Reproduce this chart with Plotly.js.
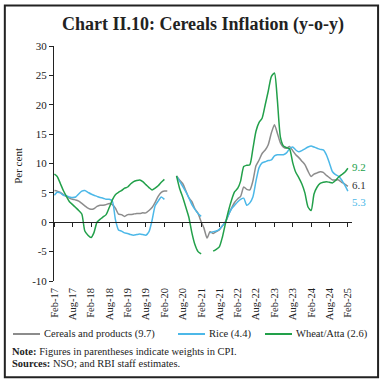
<!DOCTYPE html>
<html><head><meta charset="utf-8">
<script src="https://cdn.plot.ly/plotly-3.0.1.min.js"></script>
<style>html,body{margin:0;padding:0;background:#fff;} #chart{width:384px;height:384px;}</style>
</head><body><div id="chart"></div>
<script>
// Monthly series, Feb-17 .. Feb-25 (null = not shown)
const cereals = [
  5.4, 5.3, 5.1, 4.7, 4.4, 4.1, 3.9, 3.8, 3.6, 3.2,
  2.8, 2.4, 2.2, 2.3, 2.7, 2.9, 2.9, 3.0, 3.2, 3.0,
  2.4, 1.4, 1.3, 1.0, 1.3, 1.3, 1.4, 1.5, 1.5, 1.6,
  1.6, 2.0, 2.5, 3.4, 4.4, 5.1, 5.3, 5.3, null, null,
  7.9, 7.2, 6.6, 5.4, 4.2, 3.5, 2.3, 1.5, 0.1, -1.0,
  -2.7, -1.6, -1.9, -1.6, -1.3, -0.6, 0.0, 1.3, 2.4, 3.4,
  4.0, 4.4, 6.0, 5.6, 5.5, 7.0, 9.6, 10.6, 11.7, 12.3,
  13.2, 15.2, 16.6, 15.2, 13.5, 12.8, 12.6, 12.9, 12.2, 11.5,
  11.0, 10.4, 9.8, 8.7, 7.8, 8.2, 8.4, 8.6, 8.5, 8.0,
  7.6, 7.2, 7.2, 7.2, 6.8, 6.5, 6.1
];
const rice = [
  4.6, 5.1, 5.0, 4.6, 4.5, 4.3, 4.2, 4.3, 4.8, 5.3,
  5.4, 5.1, 4.8, 4.6, 4.4, 4.2, 4.1, 3.9, 3.9, 3.6,
  0.5, -1.3, -1.5, -1.8, -1.9, -2.1, -2.2, -2.1, -2.0, -2.1,
  -2.2, -1.6, 0.3, 2.8, 3.6, 4.3, 3.9, null, null, null,
  7.8, 7.0, 6.1, 5.2, 4.2, 3.0, 2.2, 1.5, 1.0, null,
  null, -1.8, -1.6, -1.5, -1.2, -0.6, 0.1, 1.3, 2.3, 2.9,
  3.5, 3.9, 4.1, 2.9, 3.3, 4.3, 7.0, 9.3, 10.1, 10.3,
  10.5, 10.6, 11.3, 11.5, 11.5, 11.5, 11.8, 12.5, 12.8, 12.3,
  12.0, 12.2, 12.5, 12.8, 13.0, 12.8, 12.6, 12.4, 12.3, 11.5,
  10.1, 8.6, 8.1, 7.8, 7.2, 6.3, 5.3
];
const wheat = [
  8.2, 7.8, 6.6, 5.4, 4.4, 3.5, 3.0, 2.5, 2.0, 1.4,
  -1.5, -2.2, -2.6, -1.8, 0.0, 0.5, 0.9, 1.3, 2.5, 3.8,
  4.7, 5.1, 5.4, 5.8, 6.0, 6.5, 6.9, 7.1, 7.2, 6.9,
  6.4, 5.9, 5.5, 5.8, 6.2, 6.8, 7.3, null, null, null,
  7.9, 5.8, 4.3, 2.6, 0.9, -1.8, -3.8, -5.0, -5.4, null,
  null, null, -4.9, -4.6, -4.2, -2.5, -0.2, 2.0, 3.8, 5.2,
  5.8, 7.0, 9.5, 9.7, 9.8, 12.5, 15.5, 17.0, 17.7, 20.0,
  22.3, 24.8, 25.4, 21.0, 14.5, 13.0, 12.7, 12.5, 10.2, 8.5,
  7.6, 6.5, 5.0, 2.6, 2.0, 4.8, 6.0, 6.6, 6.8, 6.9,
  6.8, 6.7, 7.1, 7.7, 8.1, 8.5, 9.2
];
const seriesNames = ['Cereals and products (9.7)', 'Rice (4.4)', 'Wheat/Atta (2.6)'];
const tickLabels = ['Feb-17','Aug-17','Feb-18','Aug-18','Feb-19','Aug-19','Feb-20','Aug-20',
  'Feb-21','Aug-21','Feb-22','Aug-22','Feb-23','Aug-23','Feb-24','Aug-24','Feb-25'];
const yTickVals = [-10, -5, 0, 5, 10, 15, 20, 25, 30];
const yTickText = ['-10', '-5', '0', '5', '10', '15', '20', '25', '30'];
const endLabels = ['9.2', '6.1', '5.3'];

const months = cereals.map((_, i) => new Date(Date.UTC(2017, 1 + i, 1)).toISOString().slice(0, 10));
const tickVals = tickLabels.map((_, k) => months[6 * k]);
const last = months[months.length - 1];

const colors = ['#8c8c8c', '#4cb8e8', '#22a04a'];
const serif = 'Liberation Serif, DejaVu Serif, serif';

const mk = (y, name, color) => ({
  x: months, y: y, name: name, type: 'scatter', mode: 'lines',
  line: {color: color, width: 1.5, shape: 'spline', smoothing: 0.6},
  connectgaps: false, hoverinfo: 'skip', showlegend: false
});

const traces = [
  mk(cereals, seriesNames[0], colors[0]),
  mk(rice, seriesNames[1], colors[1]),
  mk(wheat, seriesNames[2], colors[2]),
  {x: [months[0]], y: [null], xaxis: 'x2', yaxis: 'y', showlegend: false, mode: 'lines', hoverinfo: 'skip'}
];

// Legend key geometry (paper coords)
const legY = -0.2255;
const legKeys = [[-0.1376, -0.047], [0.4161, 0.5067], [0.7081, 0.7987]];

const shapes = [
  {type: 'rect', xref: 'paper', yref: 'paper', x0: -0.165, x1: 1.0875, y0: -0.41, y1: 1.172,
   line: {color: '#222', width: 2}, fillcolor: 'rgba(0,0,0,0)', layer: 'above'}
];
const annotations = [
  {text: 'Per cent', textangle: -90, xref: 'paper', yref: 'paper', x: -0.121, y: 0.49,
   xanchor: 'center', yanchor: 'middle', showarrow: false, font: {family: serif, size: 11, color: '#222'}},
  {text: endLabels[0], x: last, y: 9.4, xref: 'x', yref: 'y', xanchor: 'left', yanchor: 'middle', xshift: 2,
   showarrow: false, font: {family: serif, size: 11, color: colors[2]}},
  {text: endLabels[1], x: last, y: 6.35, xref: 'x', yref: 'y', xanchor: 'left', yanchor: 'middle', xshift: 2,
   showarrow: false, font: {family: serif, size: 11, color: '#333'}},
  {text: endLabels[2], x: last, y: 3.5, xref: 'x', yref: 'y', xanchor: 'left', yanchor: 'middle', xshift: 2,
   showarrow: false, font: {family: serif, size: 11, color: colors[1]}},
  {text: '<b>Note:</b> Figures in parentheses indicate weights in CPI.', xref: 'paper', yref: 'paper',
   x: -0.147, y: -0.298, xanchor: 'left', yanchor: 'middle', showarrow: false,
   font: {family: serif, size: 10.5, color: '#222'}},
  {text: '<b>Sources:</b> NSO; and RBI staff estimates.', xref: 'paper', yref: 'paper',
   x: -0.147, y: -0.353, xanchor: 'left', yanchor: 'middle', showarrow: false,
   font: {family: serif, size: 10.5, color: '#222'}}
];
legKeys.forEach((k, i) => {
  shapes.push({type: 'line', xref: 'paper', yref: 'paper', x0: k[0], x1: k[1], y0: legY, y1: legY,
               line: {color: colors[i], width: 2}});
  annotations.push({text: seriesNames[i], xref: 'paper', yref: 'paper', x: k[1] + 0.008, y: legY,
                    xanchor: 'left', yanchor: 'middle', showarrow: false,
                    font: {family: serif, size: 10.5, color: '#222'}});
});

const xRange = ['2017-01-28', '2025-03-14'];
const layout = {
  width: 384, height: 384,
  margin: {l: 54, r: 32, t: 46, b: 103},
  paper_bgcolor: '#fff', plot_bgcolor: '#fff',
  showlegend: false,
  title: {text: '<b>Chart II.10: Cereals Inflation (y-o-y)</b>', font: {family: serif, size: 18, color: '#222'},
          x: 0.5, xref: 'paper', xanchor: 'center', y: 0.937, yref: 'container', yanchor: 'middle'},
  xaxis: {
    type: 'date', range: xRange, tickvals: tickVals, ticktext: tickLabels, tickangle: -90,
    showline: false, showgrid: false, zeroline: false, ticks: '', ticklen: 0, ticklabelstandoff: 4,
    tickfont: {family: serif, size: 10.5, color: '#222'}, fixedrange: true
  },
  xaxis2: {
    type: 'date', range: xRange, overlaying: 'x', anchor: 'free', position: 0.25, side: 'bottom',
    tickvals: tickVals, showticklabels: false, ticks: 'outside', ticklen: 4, tickcolor: '#222', tickwidth: 1,
    showline: true, linecolor: '#222', linewidth: 1, showgrid: false, zeroline: false
  },
  yaxis: {
    range: [-10, 30], tickvals: yTickVals, ticktext: yTickText, ticks: 'outside', ticklen: 4, tickcolor: '#222',
    showline: true, linecolor: '#222', linewidth: 1, showgrid: false, zeroline: false,
    tickfont: {family: serif, size: 11, color: '#222'}, domain: [0, 1]
  },
  annotations: annotations,
  shapes: shapes
};

Plotly.newPlot('chart', traces, layout, {staticPlot: true, displayModeBar: false});
</script>
</body></html>
